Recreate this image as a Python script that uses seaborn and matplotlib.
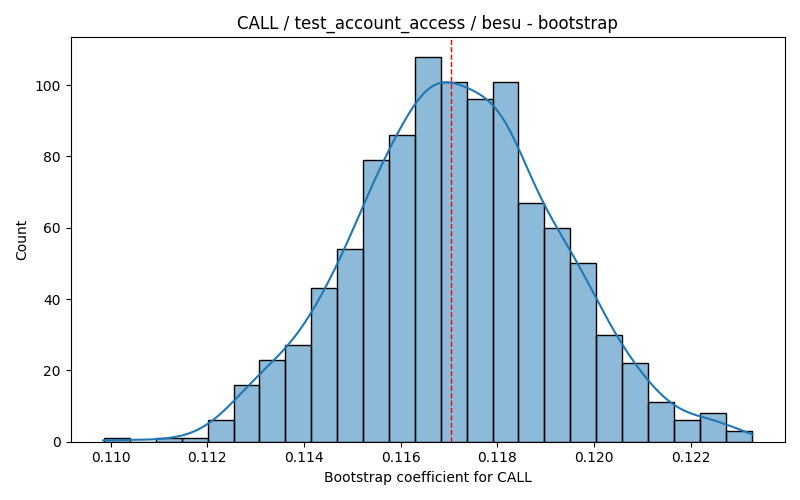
import numpy as np
import pandas as pd
import matplotlib
matplotlib.use("Agg")
import matplotlib.pyplot as plt
import seaborn as sns

# Histogram bins
bin_start = 0.10986
bin_end = 0.12326
n_bins = 25
counts = [1, 0, 1, 1, 6, 16, 23, 27, 43, 54, 79, 86, 108, 101, 96, 101,
          67, 60, 50, 30, 22, 11, 6, 8, 3]
mean_value = 0.11704

edges = np.linspace(bin_start, bin_end, n_bins + 1)
centers = (edges[:-1] + edges[1:]) / 2
# one sample per counted bootstrap value, placed at its bin centre
samples = np.repeat(centers, counts)
df = pd.DataFrame({"coef": samples})

fig, ax = plt.subplots(figsize=(8, 5), dpi=100)
sns.histplot(data=df, x="coef", bins=n_bins,
             binrange=(bin_start, bin_end), kde=True, ax=ax,
             kde_kws={"cut": 0.55},
             color="#1f77b4", edgecolor="black", alpha=0.5)
ax.axvline(mean_value, color="red", linestyle="--", linewidth=1)
ax.set_title("CALL / test_account_access / besu - bootstrap")
ax.set_xlabel("Bootstrap coefficient for CALL")
ax.set_ylabel("Count")
fig.tight_layout()
fig.savefig("out.png")
